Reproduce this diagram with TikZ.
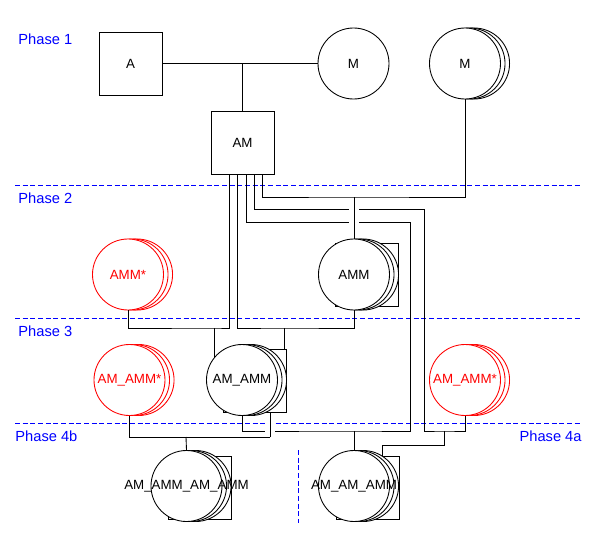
\documentclass[tikz,border=0pt]{standalone}
\usepackage{fontspec}
\setmainfont{Liberation Sans}
\usetikzlibrary{calc,positioning}
\tikzset{
	ent/.style={draw, fill=white, rectangle, minimum size=47.25pt, inner sep=0pt,
		font=\fontsize{10}{12}\selectfont},
	grp/.style={ent},
	rel/.style={draw, fill=white, circle, minimum size=53.25pt, inner sep=0pt,
		font=\fontsize{10}{12}\selectfont},
	stack/.style={
		preaction={draw=#1, fill=white, transform canvas={xshift=6.8pt}},
		preaction={draw=#1, fill=white, transform canvas={xshift=3.4pt}}},
	stack/.default=black,
	bad/.style={rel, stack=red, draw=red, text=red},
	phase/.style={text=blue, inner sep=0pt, font=\fontsize{11}{13}\selectfont},
	sep/.style={draw=blue, line width=0.7pt, dash pattern=on 3.75pt off 2pt},
	hop/.style={line cap=rect,
		preaction={draw=white, line cap=butt, line width=7.5pt, shorten <=2pt, shorten >=2pt}}
}

\begin{document}
\begin{tikzpicture}[x=0.75pt, y=-0.75pt, line width=0.65pt]
	\useasboundingbox (0,0) rectangle (600,553);
	% phases
	\draw[sep] (15,185) -- (582,185);
	\draw[sep] (15,318) -- (582,318);
	\draw[sep] (15,423) -- (582,423);
	\draw[sep] (298,450) -- (298,523);
	\node[phase, anchor=west] (ph1) at (18,39) {Phase 1};
	\node[phase, anchor=west] (ph2) at (18,198) {Phase 2};
	\node[phase, anchor=west] (ph3) at (18,331) {Phase 3};
	\node[phase, anchor=west] (ph4b) at (15,436) {Phase 4b};
	\node[phase, anchor=east] (ph4a) at (582,436) {Phase 4a};

	\node[ent] (a) at (130.5,63.5) {A};
	\node[rel] (m) at (353.5,63.5) {M};
	\node[rel, stack] (ms) at (465,63.5) {M};
	\node[ent] (am) at (242.5,142.5) {AM};
	\node[bad] (amm star) at (128,274.5) {AMM*};
	\node[grp] (amm box) at (366.5,275) {};
	\node[rel, stack] (amm) at (354,274.5) {AMM};
	\node[bad] (am amm star l) at (129.5,380) {AM\_AMM*};
	\node[grp] (am amm box) at (254.5,381) {};
	\node[rel, stack] (am amm) at (242,380) {AM\_AMM};
	\node[bad] (am amm star r) at (465,380) {AM\_AMM*};
	\node[grp] (aaaa box) at (199.5,487.5) {};
	\node[rel, stack] (aaaa) at (186.5,486) {\makebox[0pt]{AM\_AMM\_AM\_AMM}};
	\node[grp] (aaa box) at (367.5,487.5) {};
	\node[rel, stack] (aaa) at (354,486) {\makebox[0pt]{AM\_AM\_AMM}};

	\coordinate (j0) at (242.5,63.5);
	\foreach \i/\dx in {1/-13.5,2/-5.5,3/3.5,4/11.5,5/19.5}
		\coordinate (am\i) at ($(am.south)+(\dx,0)$);
	\coordinate (j1) at (354,197);
	\coordinate (j2) at (354,431);
	\coordinate (j3) at (284,328);
	\coordinate (j4) at (214,328);
	\coordinate (j5) at (444,431);
	\coordinate (j6) at (382,445);
	\coordinate (j7) at (186,437);
	\coordinate (j8) at (270,437);

	\draw (a) -- (m);
	\draw (j0) -- (am.north);
	\draw (am5) |- (j1) -| (ms.south);
	\draw (am4) |- (424,209) |- (j5) -| (am amm star r.south);
	\draw (am3) |- (410,222) |- (j2) -| (am amm.south);
	\draw (am2) |- (j3) -| (amm.south);
	\draw (am1) |- (j4) -| (amm star.south);
	\draw (j3) -- (j3 |- am amm box.north);
	\draw (j4) -- (j4 |- am amm.142);
	\draw (j2) -- (aaa.north);
	\draw (j5) |- (j6) -- (j6 |- aaa box.north);
	\draw (am amm star l.south) |- (j8);
	\draw (j7) -- (aaaa.north);
	\draw[hop] (j1) -- (amm.north);
	\draw[hop] (j8) -- (j8 |- am amm box.south);
\end{tikzpicture}
\end{document}
